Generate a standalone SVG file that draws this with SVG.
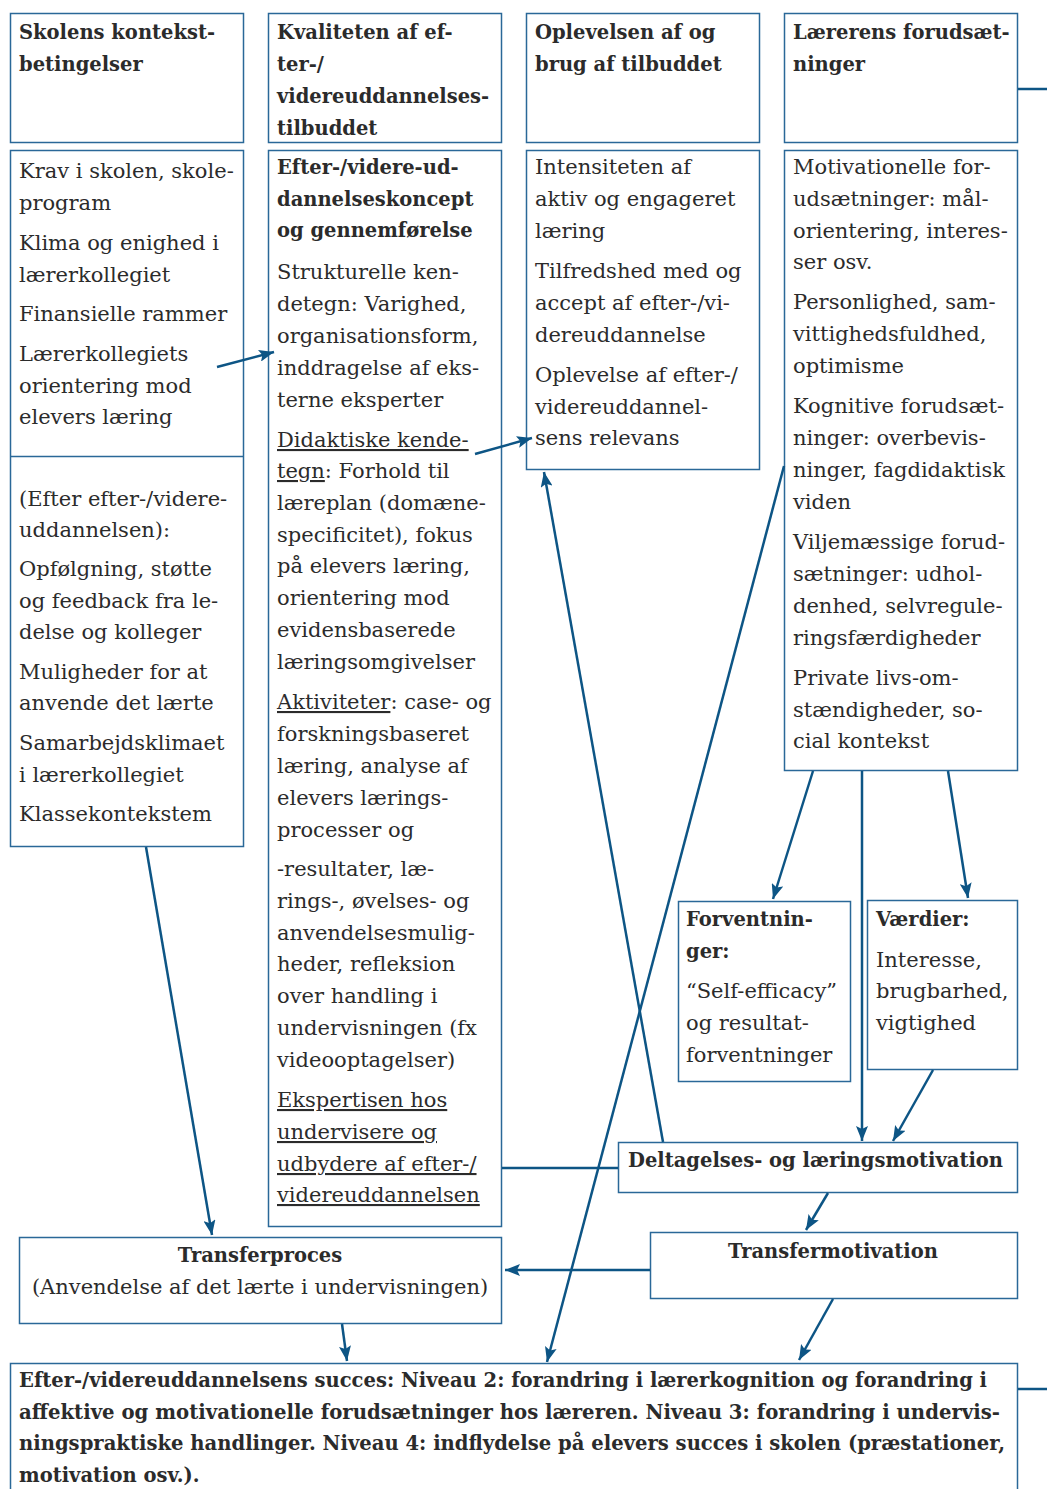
<svg xmlns="http://www.w3.org/2000/svg" width="1047" height="1489" viewBox="0 0 1047 1489">
<style>
.box{fill:#fff;stroke:#2a6898;stroke-width:1.5}
.t{font-family:"DejaVu Serif","Liberation Serif",serif;font-size:21px;fill:#2b2b2b}
.b{font-weight:bold;font-size:19.5px}
.u{text-decoration:underline}
.c{stroke:#0d5585;stroke-width:2.5;fill:none}
.m{text-anchor:middle}
</style>
<defs>
<marker id="ah" markerUnits="userSpaceOnUse" markerWidth="16" markerHeight="12" refX="15" refY="6" orient="auto">
<path d="M0,0 L15,6 L0,12 L3,6 z" fill="#0d5585"/>
</marker>
</defs>
<rect width="1047" height="1489" fill="#fff"/>

<g id="skolens-header">
<rect class="box" x="10.5" y="13.5" width="233" height="129"/>
<text class="t b" x="19" y="39">Skolens kontekst-</text>
<text class="t b" x="19" y="71">betingelser</text>
</g>

<g id="skolens-content">
<rect class="box" x="10.5" y="150.5" width="233" height="696"/>
<line class="box" x1="10.5" y1="456.5" x2="243.5" y2="456.5"/>
<text class="t" x="19" y="178">Krav i skolen, skole-</text>
<text class="t" x="19" y="210">program</text>
<text class="t" x="19" y="250">Klima og enighed i</text>
<text class="t" x="19" y="282">lærerkollegiet</text>
<text class="t" x="19" y="321">Finansielle rammer</text>
<text class="t" x="19" y="361">Lærerkollegiets</text>
<text class="t" x="19" y="393">orientering mod</text>
<text class="t" x="19" y="424">elevers læring</text>
<text class="t" x="19" y="506">(Efter efter-/videre-</text>
<text class="t" x="19" y="537">uddannelsen):</text>
<text class="t" x="19" y="576">Opfølgning, støtte</text>
<text class="t" x="19" y="608">og feedback fra le-</text>
<text class="t" x="19" y="639">delse og kolleger</text>
<text class="t" x="19" y="679">Muligheder for at</text>
<text class="t" x="19" y="710">anvende det lærte</text>
<text class="t" x="19" y="750">Samarbejdsklimaet</text>
<text class="t" x="19" y="782">i lærerkollegiet</text>
<text class="t" x="19" y="821">Klassekontekstem</text>
</g>

<g id="kvalitet-header">
<rect class="box" x="268.5" y="13.5" width="233" height="129"/>
<text class="t b" x="277" y="39">Kvaliteten af ef-</text>
<text class="t b" x="277" y="71">ter-/</text>
<text class="t b" x="277" y="103">videreuddannelses-</text>
<text class="t b" x="277" y="135">tilbuddet</text>
</g>

<g id="kvalitet-content">
<rect class="box" x="268.5" y="150.5" width="233" height="1076"/>
<text class="t b" x="277" y="174">Efter-/videre-ud-</text>
<text class="t b" x="277" y="206">dannelseskoncept</text>
<text class="t b" x="277" y="237">og gennemførelse</text>
<text class="t" x="277" y="279">Strukturelle ken-</text>
<text class="t" x="277" y="311">detegn: Varighed,</text>
<text class="t" x="277" y="343">organisationsform,</text>
<text class="t" x="277" y="375">inddragelse af eks-</text>
<text class="t" x="277" y="407">terne eksperter</text>
<text class="t" x="277" y="447"><tspan class="u">Didaktiske kende-</tspan></text>
<text class="t" x="277" y="478"><tspan class="u">tegn</tspan>: Forhold til</text>
<text class="t" x="277" y="510">læreplan (domæne-</text>
<text class="t" x="277" y="542">specificitet), fokus</text>
<text class="t" x="277" y="573">på elevers læring,</text>
<text class="t" x="277" y="605">orientering mod</text>
<text class="t" x="277" y="637">evidensbaserede</text>
<text class="t" x="277" y="669">læringsomgivelser</text>
<text class="t" x="277" y="709"><tspan class="u">Aktiviteter</tspan>: case- og</text>
<text class="t" x="277" y="741">forskningsbaseret</text>
<text class="t" x="277" y="773">læring, analyse af</text>
<text class="t" x="277" y="805">elevers lærings-</text>
<text class="t" x="277" y="837">processer og</text>
<text class="t" x="277" y="876">-resultater, læ-</text>
<text class="t" x="277" y="908">rings-, øvelses- og</text>
<text class="t" x="277" y="940">anvendelsesmulig-</text>
<text class="t" x="277" y="971">heder, refleksion</text>
<text class="t" x="277" y="1003">over handling i</text>
<text class="t" x="277" y="1035">undervisningen (fx</text>
<text class="t" x="277" y="1067">videooptagelser)</text>
<text class="t" x="277" y="1107"><tspan class="u">Ekspertisen hos</tspan></text>
<text class="t" x="277" y="1139"><tspan class="u">undervisere og</tspan></text>
<text class="t" x="277" y="1171"><tspan class="u">udbydere af efter-/</tspan></text>
<text class="t" x="277" y="1202"><tspan class="u">videreuddannelsen</tspan></text>
</g>

<g id="oplevelsen-header">
<rect class="box" x="526.5" y="13.5" width="233" height="129"/>
<text class="t b" x="535" y="39">Oplevelsen af og</text>
<text class="t b" x="535" y="71">brug af tilbuddet</text>
</g>

<g id="oplevelsen-content">
<rect class="box" x="526.5" y="150.5" width="233" height="319"/>
<text class="t" x="535" y="174">Intensiteten af</text>
<text class="t" x="535" y="206">aktiv og engageret</text>
<text class="t" x="535" y="238">læring</text>
<text class="t" x="535" y="278">Tilfredshed med og</text>
<text class="t" x="535" y="310">accept af efter-/vi-</text>
<text class="t" x="535" y="342">dereuddannelse</text>
<text class="t" x="535" y="382">Oplevelse af efter-/</text>
<text class="t" x="535" y="414">videreuddannel-</text>
<text class="t" x="535" y="445">sens relevans</text>
</g>

<g id="laererens-header">
<rect class="box" x="784.5" y="13.5" width="233" height="129"/>
<text class="t b" x="793" y="39">Lærerens forudsæt-</text>
<text class="t b" x="793" y="71">ninger</text>
</g>

<g id="laererens-content">
<rect class="box" x="784.5" y="150.5" width="233" height="620"/>
<text class="t" x="793" y="174">Motivationelle for-</text>
<text class="t" x="793" y="206">udsætninger: mål-</text>
<text class="t" x="793" y="238">orientering, interes-</text>
<text class="t" x="793" y="269">ser osv.</text>
<text class="t" x="793" y="309">Personlighed, sam-</text>
<text class="t" x="793" y="341">vittighedsfuldhed,</text>
<text class="t" x="793" y="373">optimisme</text>
<text class="t" x="793" y="413">Kognitive forudsæt-</text>
<text class="t" x="793" y="445">ninger: overbevis-</text>
<text class="t" x="793" y="477">ninger, fagdidaktisk</text>
<text class="t" x="793" y="509">viden</text>
<text class="t" x="793" y="549">Viljemæssige forud-</text>
<text class="t" x="793" y="581">sætninger: udhol-</text>
<text class="t" x="793" y="613">denhed, selvregule-</text>
<text class="t" x="793" y="645">ringsfærdigheder</text>
<text class="t" x="793" y="685">Private livs-om-</text>
<text class="t" x="793" y="717">stændigheder, so-</text>
<text class="t" x="793" y="748">cial kontekst</text>
</g>

<g id="forventninger">
<rect class="box" x="678.5" y="901.5" width="172" height="180"/>
<text class="t b" x="686" y="926">Forventnin-</text>
<text class="t b" x="686" y="958">ger:</text>
<text class="t" x="686" y="998">“Self-efficacy”</text>
<text class="t" x="686" y="1030">og resultat-</text>
<text class="t" x="686" y="1062">forventninger</text>
</g>

<g id="vaerdier">
<rect class="box" x="867.5" y="900.5" width="150" height="169"/>
<text class="t b" x="876" y="926">Værdier:</text>
<text class="t" x="876" y="967">Interesse,</text>
<text class="t" x="876" y="998">brugbarhed,</text>
<text class="t" x="876" y="1030">vigtighed</text>
</g>

<g id="deltagelses">
<rect class="box" x="618.5" y="1142.5" width="399" height="50"/>
<text class="t b" x="628" y="1167">Deltagelses- og læringsmotivation</text>
</g>

<g id="transfermotivation">
<rect class="box" x="650.5" y="1232.5" width="367" height="66"/>
<text class="t b m" x="833" y="1258">Transfermotivation</text>
</g>

<g id="transferproces">
<rect class="box" x="19.5" y="1237.5" width="482" height="86"/>
<text class="t b m" x="260" y="1262">Transferproces</text>
<text class="t m" x="260" y="1294">(Anvendelse af det lærte i undervisningen)</text>
</g>

<g id="succes">
<rect class="box" x="10.5" y="1363.5" width="1007" height="140"/>
<text class="t b" x="19" y="1387" textLength="968" lengthAdjust="spacingAndGlyphs">Efter-/videreuddannelsens succes: Niveau 2: forandring i lærerkognition og forandring i</text>
<text class="t b" x="19" y="1419" textLength="981" lengthAdjust="spacingAndGlyphs">affektive og motivationelle forudsætninger hos læreren. Niveau 3: forandring i undervis-</text>
<text class="t b" x="19" y="1450" textLength="986" lengthAdjust="spacingAndGlyphs">ningspraktiske handlinger. Niveau 4: indflydelse på elevers succes i skolen (præstationer,</text>
<text class="t b" x="19" y="1482">motivation osv.).</text>
</g>

<g id="connectors">
<line class="c" x1="1018" y1="89" x2="1047" y2="89"/>
<line class="c" x1="1018" y1="1389" x2="1047" y2="1389"/>
<line class="c" x1="217" y1="367" x2="274" y2="352" marker-end="url(#ah)"/>
<line class="c" x1="475" y1="454" x2="532" y2="438" marker-end="url(#ah)"/>
<line class="c" x1="663" y1="1142" x2="544" y2="472" marker-end="url(#ah)"/>
<line class="c" x1="784" y1="466" x2="547" y2="1362" marker-end="url(#ah)"/>
<line class="c" x1="813" y1="771" x2="773" y2="899" marker-end="url(#ah)"/>
<line class="c" x1="862" y1="771" x2="862" y2="1141" marker-end="url(#ah)"/>
<line class="c" x1="948" y1="771" x2="968" y2="898" marker-end="url(#ah)"/>
<line class="c" x1="933" y1="1070" x2="893" y2="1141" marker-end="url(#ah)"/>
<line class="c" x1="146" y1="847" x2="212" y2="1235" marker-end="url(#ah)"/>
<line class="c" x1="502" y1="1168" x2="618" y2="1168"/>
<line class="c" x1="828" y1="1193" x2="806" y2="1230" marker-end="url(#ah)"/>
<line class="c" x1="650" y1="1270" x2="505" y2="1270" marker-end="url(#ah)"/>
<line class="c" x1="342" y1="1324" x2="347" y2="1361" marker-end="url(#ah)"/>
<line class="c" x1="833" y1="1299" x2="799" y2="1360" marker-end="url(#ah)"/>
</g>
</svg>
